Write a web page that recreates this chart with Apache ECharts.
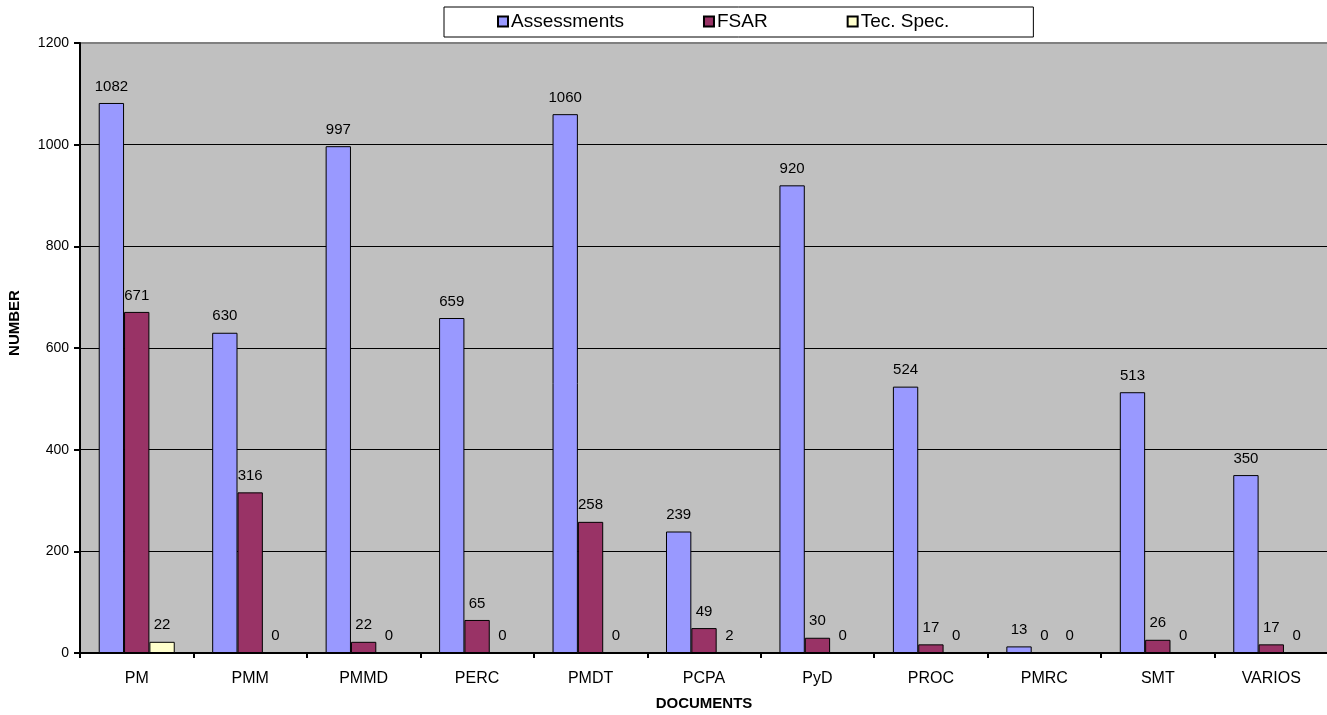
<!DOCTYPE html>
<html>
<head>
<meta charset="utf-8">
<title>Documents</title>
<script src="https://cdn.jsdelivr.net/npm/echarts@6/dist/echarts.min.js"></script>
<style>
  html, body { margin: 0; padding: 0; background: #ffffff; }
  #chart { width: 1327px; height: 715px; }
</style>
</head>
<body>
<div id="chart"></div>
<script>
// Document types on the horizontal axis
const categories = ['PM', 'PMM', 'PMMD', 'PERC', 'PMDT', 'PCPA', 'PyD', 'PROC', 'PMRC', 'SMT', 'VARIOS'];

// Counts per document type
const assessments = [1082, 630, 997, 659, 1060, 239, 920, 524, 13, 513, 350];
const fsar        = [671, 316, 22, 65, 258, 49, 30, 17, 0, 26, 17];
const tecSpec     = [22, 0, 0, 0, 0, 2, 0, 0, 0, 0, 0];

// Vertical axis ticks
const yTicks = [0, 200, 400, 600, 800, 1000, 1200];

const FONT = 'Liberation Sans, Arial, sans-serif';

const chart = echarts.init(document.getElementById('chart'), null, { renderer: 'canvas' });

function barSeries(name, data, color) {
  return {
    name: name,
    type: 'bar',
    data: data,
    barGap: '0%',
    barCategoryGap: '33%',
    itemStyle: { color: color, borderColor: '#000000', borderWidth: 1 },
    label: {
      show: true,
      position: 'top',
      distance: 9,
      color: '#000000',
      fontFamily: FONT,
      fontSize: 15
    },
    emphasis: { disabled: true },
    animation: false
  };
}

chart.setOption({
  animation: false,
  backgroundColor: '#ffffff',
  textStyle: { fontFamily: FONT },
  legend: {
    left: 444,
    top: 7,
    padding: [5, 84, 6, 53],
    itemGap: 79,
    itemWidth: 10,
    itemHeight: 10,
    icon: 'rect',
    backgroundColor: '#ffffff',
    borderColor: '#000000',
    borderWidth: 1,
    textStyle: { color: '#000000', fontFamily: FONT, fontSize: 19, padding: [0, 0, 0, -2] },
    data: ['Assessments', 'FSAR', 'Tec. Spec.']
  },
  grid: {
    left: 80,
    right: -1,
    top: 43,
    bottom: 62,
    outerBoundsMode: 'none',
    containLabel: false,
    show: true,
    backgroundColor: '#c0c0c0',
    borderColor: '#808080',
    borderWidth: 2
  },
  xAxis: {
    type: 'category',
    data: categories,
    name: 'DOCUMENTS',
    nameLocation: 'middle',
    nameGap: 43,
    nameTextStyle: { color: '#000000', fontFamily: FONT, fontSize: 15, fontWeight: 'bold' },
    axisLine: { show: true, lineStyle: { color: '#000000', width: 2 } },
    axisTick: { show: true, length: 5, lineStyle: { color: '#000000', width: 2 } },
    axisLabel: { color: '#000000', fontFamily: FONT, fontSize: 16, margin: 18 },
    splitLine: { show: false }
  },
  yAxis: {
    type: 'value',
    min: yTicks[0],
    max: yTicks[yTicks.length - 1],
    interval: yTicks[1] - yTicks[0],
    name: 'NUMBER',
    nameLocation: 'middle',
    nameGap: 58,
    nameRotate: 90,
    nameTextStyle: { color: '#000000', fontFamily: FONT, fontSize: 15, fontWeight: 'bold', padding: [0, 0, 0, 50] },
    axisLine: { show: true, lineStyle: { color: '#000000', width: 2 } },
    axisTick: { show: true, length: 6, lineStyle: { color: '#000000', width: 2 } },
    axisLabel: {
      color: '#000000',
      fontFamily: FONT,
      fontSize: 14,
      margin: 11,
      formatter: function (v) { return String(v); }
    },
    splitLine: {
      show: true,
      showMinLine: false,
      showMaxLine: false,
      lineStyle: { color: '#000000', width: 1 }
    }
  },
  series: [
    barSeries('Assessments', assessments, '#9999ff'),
    barSeries('FSAR', fsar, '#993366'),
    barSeries('Tec. Spec.', tecSpec, '#ffffcc')
  ]
});
</script>
</body>
</html>
